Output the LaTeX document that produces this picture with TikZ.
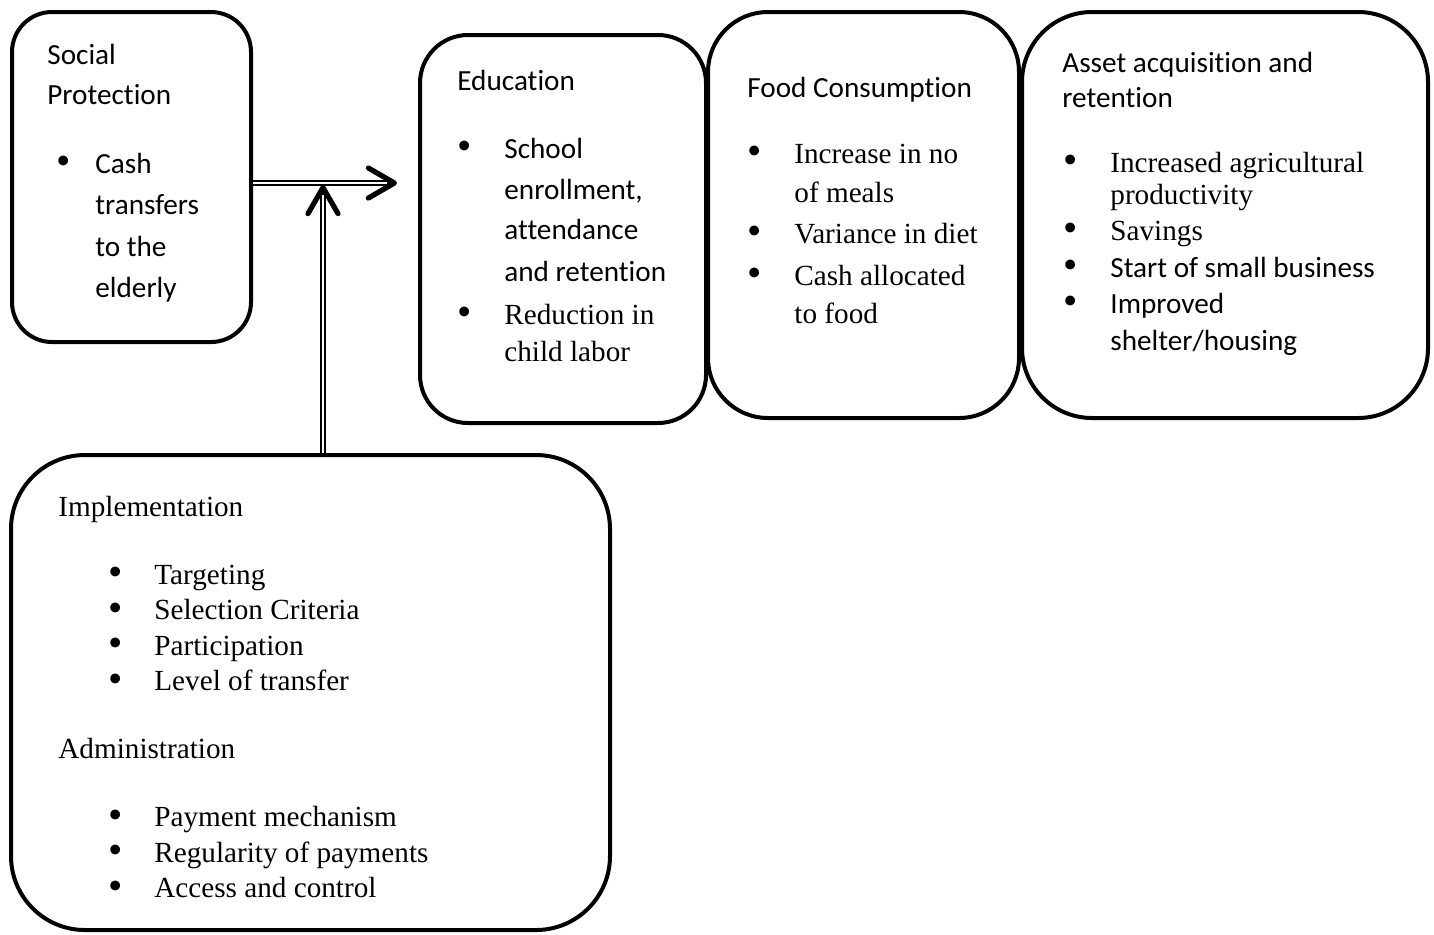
\documentclass[tikz,border=0pt]{standalone}
\usepackage{fontspec}
\setmainfont{Liberation Serif}
\newfontfamily\calibri[Ligatures=NoCommon]{Carlito}
\usetikzlibrary{arrows.meta}
\newcommand{\bul}[2]{\makebox[#1][l]{\hspace{#2}{\rmfamily\smash{\raisebox{-0.06em}{\scalebox{1.4}{\textbullet}}}}}}
\newcommand{\hd}[1]{\multicolumn{2}{@{}l@{}}{#1}}
\tikzset{
  box/.style={draw, line width=2pt, rounded corners=#1, anchor=north west, inner sep=0pt, outer sep=0pt},
  txt/.style={anchor=base west, inner sep=0pt, font=\calibri\fontsize{14.6}{#1}\selectfont},
  txt/.default=20.8pt,
  link/.style={line width=2.55pt, -{Straight Barb[length=13pt, width=15pt, line width=2.6pt, round]},
    postaction={draw=white, line width=0.85pt, -, shorten >=5pt, shorten <=1.2pt}},
}
\begin{document}
\begin{tikzpicture}[x=0.5pt, y=-0.5pt]
  \useasboundingbox (0,0) rectangle (1434,934);
  % boxes
  \node[box=20pt, minimum width=119.5pt, minimum height=165pt] (soc) at (12,12) {};
  \node[box=24pt, minimum width=143pt, minimum height=194pt] (edu) at (420,35) {};
  \node[box=30pt, minimum width=155.5pt, minimum height=203pt] (food) at (708,12) {};
  \node[box=35pt, minimum width=203pt, minimum height=203pt] (asset) at (1022,12) {};
  \node[box=37pt, minimum width=299.5pt, minimum height=237.5pt] (impl) at (11,455) {};
  % texts
  \node[txt] (soctext) at (47,64) {\begin{tabular}[t]{@{}l@{}l@{}}
    \hd{Social}\\[-0.8pt]
    \hd{Protection}\\[13.7pt]
    \bul{24pt}{4.5pt} & Cash\\
    & transfers\\
    & to the\\
    & elderly
  \end{tabular}};
  \node[txt] (edutext) at (457,90) {\begin{tabular}[t]{@{}l@{}l@{}}
    \hd{Education}\\[13.2pt]
    \bul{23.5pt}{0pt} & School\\
    & enrollment,\\[-0.8pt]
    & attendance\\
    & and retention\\[0.7pt]
    \bul{23.5pt}{0pt} & \rmfamily Reduction in\\[-2.3pt]
    & \rmfamily child labor
  \end{tabular}};
  \node[txt=20pt] (foodtext) at (747,97) {\begin{tabular}[t]{@{}l@{}l@{}}
    \hd{Food Consumption}\\[13pt]
    \bul{23.5pt}{0pt} & \rmfamily Increase in no\\[-0.5pt]
    & \rmfamily of meals\\[0.5pt]
    \bul{23.5pt}{0pt} & \rmfamily Variance in diet\\[1pt]
    \bul{23.5pt}{0pt} & \rmfamily Cash allocated\\[-1pt]
    & \rmfamily to food
  \end{tabular}};
  \node[txt=18pt] (assettext) at (1062,72) {\begin{tabular}[t]{@{}l@{}l@{}}
    \hd{Asset acquisition and}\\[-0.5pt]
    \hd{retention}\\[14.5pt]
    \bul{24pt}{0.5pt} & \rmfamily Increased agricultural\\[-2pt]
    & \rmfamily productivity\\
    \bul{24pt}{0.5pt} & \rmfamily Savings\\[0.5pt]
    \bul{24pt}{0.5pt} & Start of small business\\
    \bul{24pt}{0.5pt} & Improved\\[0.5pt]
    & shelter/housing
  \end{tabular}};
  \node[txt=17.75pt, font=\rmfamily\fontsize{14.6}{17.75}\selectfont] (impltext) at (58,516) {\begin{tabular}[t]{@{}l@{}l@{}}
    \hd{Implementation}\\[16.25pt]
    \bul{48pt}{25pt} & Targeting\\
    \bul{48pt}{25pt} & Selection Criteria\\
    \bul{48pt}{25pt} & Participation\\
    \bul{48pt}{25pt} & Level of transfer\\[16.25pt]
    \hd{Administration}\\[16.25pt]
    \bul{48pt}{25pt} & Payment mechanism\\
    \bul{48pt}{25pt} & Regularity of payments\\
    \bul{48pt}{25pt} & Access and control
  \end{tabular}};
  % arrows
  \coordinate (tip) at (397,183);
  \coordinate (meet) at (323,185);
  \draw[link] (soc.east |- tip) -- (tip);
  \draw[link] (impl.north -| meet) -- (meet);
\end{tikzpicture}
\end{document}
